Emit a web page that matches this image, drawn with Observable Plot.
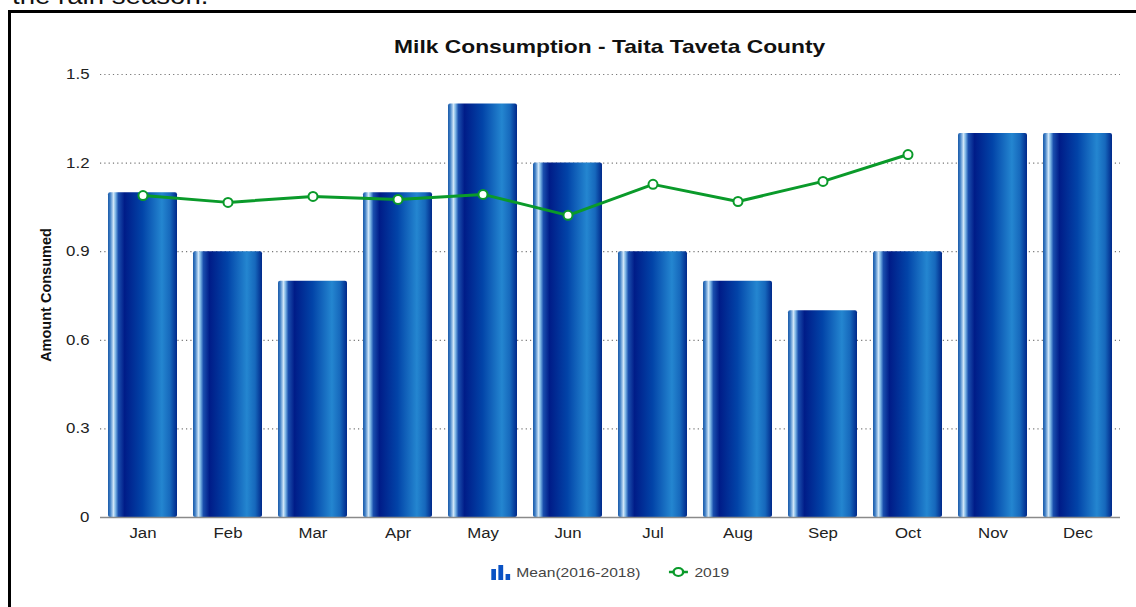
<!DOCTYPE html>
<html>
<head>
<meta charset="utf-8">
<script src="https://cdn.jsdelivr.net/npm/d3@7"></script>
<script src="https://cdn.jsdelivr.net/npm/@observablehq/plot@0.6"></script>
<style>
  html, body { margin: 0; padding: 0; background: #fff; width: 1136px; height: 607px; overflow: hidden; position: relative; font-family: "Liberation Sans", Arial, sans-serif; }
  #frame { position: absolute; left: 8px; top: 10px; width: 1140px; height: 610px; border-left: 3px solid #000; border-top: 3px solid #000; box-sizing: border-box; }
  #cut { position: absolute; left: 12px; top: -17px; font-size: 23px; color: #111; transform: scaleX(1.2); transform-origin: left center; white-space: nowrap; }
  #title { position: absolute; left: 100px; width: 1020px; top: 36px; text-align: center; font-weight: bold; font-size: 19px; color: #111; }
  #title span { display: inline-block; transform: scaleX(1.2); }
  #ylabel { position: absolute; left: 46px; top: 295px; font-weight: bold; font-size: 14.5px; color: #111; transform: translate(-50%, -50%) rotate(-90deg); white-space: nowrap; }
  #chart { position: absolute; left: 0; top: 0; }
  #legend { position: absolute; left: 100px; width: 1020px; top: 564px; text-align: center; font-size: 13px; color: #444; }
  #legend .inner { display: inline-flex; align-items: center; gap: 0; transform: scaleX(1.2); }
  #legend .item { display: inline-flex; align-items: center; margin: 0 12px; }
  #legend svg { margin-right: 5px; }
</style>
</head>
<body>
<div id="cut">the rain season.</div>
<div id="frame"></div>
<div id="chart"></div>
<div id="title"><span>Milk Consumption - Taita Taveta County</span></div>
<div id="ylabel">Amount Consumed</div>
<div id="legend"><div class="inner">
  <span class="item"><svg width="16" height="16" viewBox="0 0 16 16"><rect x="0" y="5" width="4" height="11" fill="#0a52c4"/><rect x="6" y="1" width="4" height="15" fill="#0a52c4"/><rect x="12" y="10" width="4" height="6" fill="#0a52c4"/></svg><span id="lg1"></span></span>
  <span class="item"><svg width="16" height="12" viewBox="0 0 16 12"><line x1="0" y1="6" x2="16" y2="6" stroke="#0a9a2a" stroke-width="2.5"/><circle cx="8" cy="6" r="4" fill="#fff" stroke="#0a9a2a" stroke-width="2"/></svg><span id="lg2"></span></span>
</div></div>
<script>
const months = ["Jan", "Feb", "Mar", "Apr", "May", "Jun", "Jul", "Aug", "Sep", "Oct", "Nov", "Dec"];
const meanValues = [1.1, 0.9, 0.8, 1.1, 1.4, 1.2, 0.9, 0.8, 0.7, 0.9, 1.3, 1.3];
const months2019 = ["Jan", "Feb", "Mar", "Apr", "May", "Jun", "Jul", "Aug", "Sep", "Oct"];
const values2019 = [1.09, 1.067, 1.087, 1.077, 1.094, 1.023, 1.128, 1.07, 1.138, 1.229];
const yTicks = [0, 0.3, 0.6, 0.9, 1.2, 1.5];
const yTickLabels = ["0", "0.3", "0.6", "0.9", "1.2", "1.5"];
const seriesNames = ["Mean(2016-2018)", "2019"];

document.getElementById("lg1").textContent = seriesNames[0];
document.getElementById("lg2").textContent = seriesNames[1];

const meanData = months.map((m, i) => ({month: m, value: meanValues[i]}));
const lineData = months2019.map((m, i) => ({month: m, value: values2019[i]}));

const chart = Plot.plot({
  width: 1136,
  height: 555,
  marginLeft: 100,
  marginRight: 16,
  marginTop: 74,
  marginBottom: 38,
  style: {fontFamily: "Liberation Sans, Arial, sans-serif", fontSize: "14px", color: "#222", background: "transparent", overflow: "visible"},
  x: {domain: months, paddingInner: 0.188, paddingOuter: 0.094, label: null, tickSize: 0, tickPadding: 11},
  y: {domain: [0, 1.5], ticks: yTicks, tickFormat: d => yTickLabels[yTicks.indexOf(d)], tickSize: 0, tickPadding: 11, label: null},
  marks: [
    Plot.ruleY(yTicks.filter(d => d > 0), {stroke: "#777", strokeWidth: 1.2, strokeDasharray: "1.2,3.1"}),
    Plot.barY(meanData, {x: "month", y: "value", fill: "url(#barGrad)", rx: 2}),
    Plot.ruleY([0], {stroke: "#8a8a8a", strokeWidth: 1.6}),
    Plot.line(lineData, {x: "month", y: "value", stroke: "#0a9a2a", strokeWidth: 3}),
    Plot.dot(lineData, {x: "month", y: "value", r: 4.5, fill: "#fff", stroke: "#0a9a2a", strokeWidth: 2})
  ]
});

const ns = "http://www.w3.org/2000/svg";
const defs = document.createElementNS(ns, "defs");
const grad = document.createElementNS(ns, "linearGradient");
grad.setAttribute("id", "barGrad");
grad.setAttribute("x1", "0"); grad.setAttribute("x2", "1");
grad.setAttribute("y1", "0"); grad.setAttribute("y2", "0");
const stops = [
  [0, "#1b5aa8"], [0.03, "#3b7cc4"], [0.08, "#cfe6f8"], [0.11, "#78b2e4"],
  [0.15, "#1a4fae"], [0.24, "#001c88"], [0.5, "#0244a8"], [0.78, "#2486d0"],
  [0.9, "#1668bc"], [1, "#00288a"]
];
for (const [o, c] of stops) {
  const s = document.createElementNS(ns, "stop");
  s.setAttribute("offset", o);
  s.setAttribute("stop-color", c);
  grad.appendChild(s);
}
defs.appendChild(grad);
chart.insertBefore(defs, chart.firstChild);

document.getElementById("chart").appendChild(chart);

// the reference is stretched horizontally; widen axis tick texts to match
chart.querySelectorAll("text").forEach(t => {
  const w = t.getComputedTextLength();
  if (w > 0) {
    t.setAttribute("textLength", (w * 1.2).toFixed(1));
    t.setAttribute("lengthAdjust", "spacingAndGlyphs");
  }
});
</script>
</body>
</html>
